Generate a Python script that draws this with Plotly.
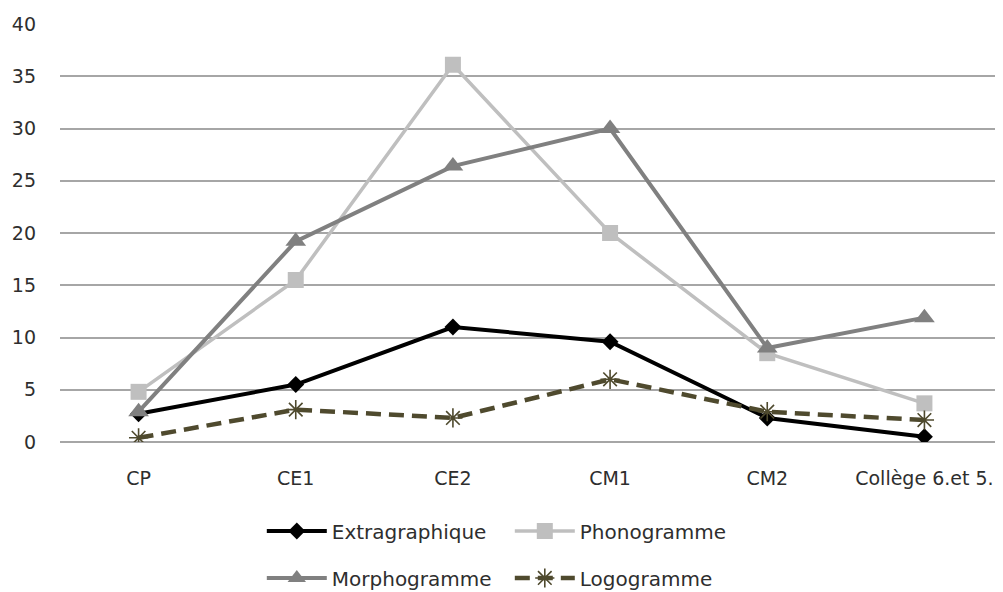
import plotly.graph_objects as go

categories = ["CP", "CE1", "CE2", "CM1", "CM2", "Collège 6.et 5."]
extragraphique = [2.7, 5.5, 11.0, 9.6, 2.3, 0.5]
phonogramme = [4.8, 15.5, 36.1, 20.0, 8.5, 3.7]
morphogramme = [2.9, 19.2, 26.4, 30.0, 9.0, 11.9]
logogramme = [0.4, 3.1, 2.3, 6.0, 2.9, 2.1]
y_ticks = [0, 5, 10, 15, 20, 25, 30, 35, 40]

FONT = "DejaVu Sans"
TXT = "#2E2E2E"

fig = go.Figure()
fig.add_trace(go.Scatter(
    x=categories, y=extragraphique, name="Extragraphique", mode="lines+markers",
    line=dict(color="#000000", width=4),
    marker=dict(symbol="diamond", size=13, color="#000000"),
    legend="legend"))
fig.add_trace(go.Scatter(
    x=categories, y=phonogramme, name="Phonogramme", mode="lines+markers",
    line=dict(color="#BFBFBF", width=3.5),
    marker=dict(symbol="square", size=16, color="#BFBFBF"),
    legend="legend"))
fig.add_trace(go.Scatter(
    x=categories, y=morphogramme, name="Morphogramme", mode="lines+markers",
    line=dict(color="#808080", width=4),
    marker=dict(symbol="triangle-up", size=18, color="#808080"),
    legend="legend2"))
fig.add_trace(go.Scatter(
    x=categories, y=logogramme, name="Logogramme", mode="lines+markers",
    line=dict(color="#4F4A2E", width=4.5, dash="15px,8px"),
    marker=dict(symbol="asterisk-open", size=16, color="#4F4A2E",
                line=dict(color="#4F4A2E", width=1.6)),
    legend="legend2"))

legend_common = dict(
    orientation="h", xanchor="left", yanchor="middle", yref="container",
    font=dict(family=FONT, size=20, color=TXT),
    entrywidth=173, entrywidthmode="pixels",
    bgcolor="rgba(0,0,0,0)", itemwidth=60,
)

fig.update_layout(
    width=995, height=584,
    margin=dict(l=52, r=0, t=16, b=150),
    paper_bgcolor="white", plot_bgcolor="white",
    font=dict(family=FONT, size=19, color=TXT),
    xaxis=dict(
        type="category", categoryorder="array", categoryarray=categories,
        range=[-0.5, 5.5], showgrid=False, showline=False, zeroline=False,
        ticks="", ticklabelstandoff=23, automargin=False,
        tickfont=dict(family=FONT, size=19, color=TXT),
    ),
    yaxis=dict(
        range=[0, 40], tickvals=y_ticks, showgrid=True,
        gridcolor="#A6A6A6", gridwidth=1.5, zeroline=True,
        zerolinecolor="#A6A6A6", zerolinewidth=1.5, showline=False,
        ticks="", ticklabelstandoff=23, automargin=False,
        tickfont=dict(family=FONT, size=19, color=TXT),
    ),
    legend=dict(x=0.214, y=0.1045, **legend_common),
    legend2=dict(x=0.214, y=0.024, **legend_common),
)

fig.write_html("out.html")
